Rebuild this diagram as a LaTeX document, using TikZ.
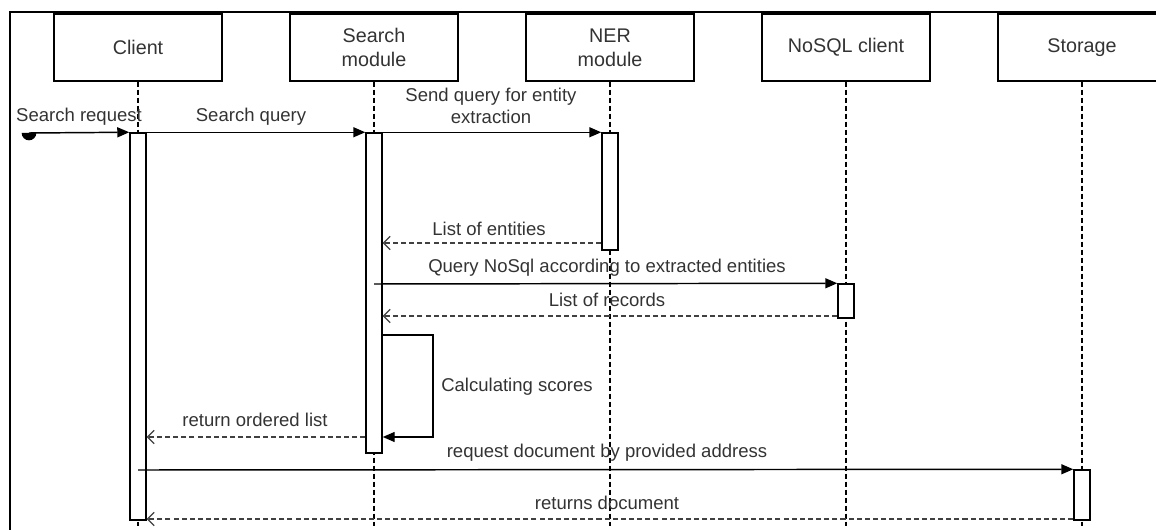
\documentclass[tikz,border=0pt]{standalone}
\usepackage{fontspec}
\setmainfont{Liberation Sans}
\usetikzlibrary{arrows.meta}
\definecolor{txt}{HTML}{333333}
\tikzset{
  head/.style={draw, line width=1.1pt, fill=white, minimum width=126pt, minimum height=50.25pt,
    inner sep=0pt, align=center, text=txt, font=\fontsize{14.8}{18}\selectfont},
  bar/.style={draw, line width=1.1pt, fill=white, minimum width=12pt, inner sep=0pt},
  life/.style={line width=0.9pt, dash pattern=on 3.6pt off 2.4pt},
  msg/.style={line width=1.1pt, -{Triangle[length=9pt, width=7.5pt]}},
  ret/.style={line width=1.1pt, draw=black!75, dash pattern=on 3.8pt off 2.3pt,
    -{Straight Barb[length=5pt, width=10pt, line width=0.9pt]}},
  lbl/.style={text=txt, font=\fontsize{13.9}{17}\selectfont, inner sep=0pt, align=center}
}
\begin{document}
\begin{tikzpicture}[x=0.75pt, y=-0.75pt]
\useasboundingbox (0,0) rectangle (1156,530);
% outer frame
\draw[line width=1.5pt] (10,545) -- (10,12) -- (1175,12);

% participants
\node[head] (hClient)  at (138,47.5)  {Client};
\node[head] (hSearch)  at (374,47.5)  {Search\\module};
\node[head] (hNER)     at (610,47.5)  {NER\\module};
\node[head] (hNoSQL)   at (846,47.5)  {NoSQL client};
\node[head] (hStorage) at (1082,47.5) {Storage};

% lifelines
\foreach \p in {Client,Search,NER,NoSQL,Storage}
  \draw[life] (h\p.south) -- (h\p.south |- 0,526);

% activation bars
\node[bar, minimum height=290.25pt] (bClient)  at (138,326.5) {};
\node[bar, minimum height=240pt]    (bSearch)  at (374,293)   {};
\node[bar, minimum height=87.75pt]  (bNER)     at (610,191.5) {};
\node[bar, minimum height=25.5pt]   (bNoSQL)   at (846,301)   {};
\node[bar, minimum height=37.5pt]   (bStorage) at (1082,495)  {};

% found message
\coordinate (found) at (29,133);
\fill (found) ++(-5.5pt,0) arc[start angle=180, end angle=360, radius=5.5pt] -- cycle;
\draw[msg] (found) -- (bClient.north west);
\node[lbl] (lReq) at (79,117) {Search request};

% search query
\draw[msg] (bClient.north east) -- (bSearch.north west);
\node[lbl] (lQuery) at (251,117) {Search query};

% entity extraction
\draw[msg] (bSearch.north east) -- (bNER.north west);
\node[lbl] (lSend) at (491,106) {Send query for entity\\extraction};

% list of entities
\draw[ret] (bNER.west |- 0,243) -- (bSearch.east |- 0,243);
\node[lbl] (lEnt) at (489,229) {List of entities};

% NoSQL query
\draw[msg] (bSearch.center |- 0,284) -- (bNoSQL.north west);
\node[lbl] (lNo) at (607,268) {Query NoSql according to extracted entities};

% list of records
\draw[ret] (bNoSQL.west |- 0,316) -- (bSearch.east |- 0,316);
\node[lbl] (lRec) at (607,300) {List of records};

% self call
\coordinate (s1) at (433,335);
\coordinate (s2) at (433,437);
\draw[msg] (bSearch.east |- s1) -- (s1) -- (s2) -- (bSearch.east |- s2);
\node[lbl, anchor=west] (lCalc) at (441,387) {Calculating scores};

% ordered list back to client
\draw[ret] (bSearch.west |- 0,437) -- (bClient.east |- 0,437);
\node[lbl] (lOrd) at (255,420) {return ordered list};

% document request
\draw[msg] (bClient.center |- 0,470) -- (bStorage.north west);
\node[lbl] (lDoc) at (607,453) {request document by provided address};

% document returned
\draw[ret] (bStorage.west |- 0,519) -- (bClient.east |- 0,519);
\node[lbl] (lRet) at (607,503) {returns document};
\end{tikzpicture}
\end{document}
